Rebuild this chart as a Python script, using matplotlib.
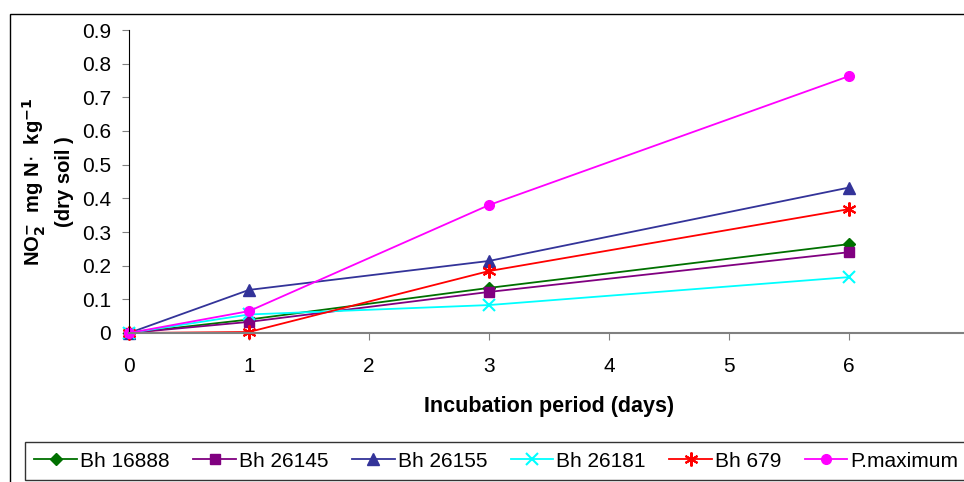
import matplotlib
matplotlib.use("Agg")
import matplotlib.pyplot as plt
from matplotlib.patches import Rectangle

plt.rcParams['font.family'] = ['Liberation Sans', 'DejaVu Sans']

days = [0, 1, 3, 6]
bh16888 = [0.0, 0.040, 0.134, 0.264]
bh26145 = [0.0, 0.033, 0.122, 0.240]
bh26155 = [0.0, 0.128, 0.214, 0.432]
bh26181 = [0.0, 0.055, 0.083, 0.166]
bh679 = [0.0, 0.003, 0.184, 0.368]
pmaximum = [0.0, 0.065, 0.380, 0.763]

labels = ['Bh 16888', 'Bh 26145', 'Bh 26155', 'Bh 26181', 'Bh 679', 'P.maximum']
series = [bh16888, bh26145, bh26155, bh26181, bh679, pmaximum]
colors = ['#007000', '#800080', '#333399', '#00ffff', '#ff0000', '#ff00ff']
markers = ['D', 's', '^', 'x', (6, 2, 0), 'o']
msizes = [6, 7, 8, 8, 10, 7]

fig = plt.figure(figsize=(9.64, 4.82), dpi=100)
ax = fig.add_axes([129 / 964, 1 - 333 / 482, 840 / 964, 303 / 482])

for vals, lab, c, m, ms in zip(series, labels, colors, markers, msizes):
    ax.plot(days, vals, color=c, marker=m, markersize=ms, linewidth=1.3,
            markeredgewidth=1.5 if m == 'x' or isinstance(m, tuple) else 1,
            label=lab, clip_on=False)

ax.set_xlim(0, 7)
ax.set_ylim(0, 0.9)
ax.set_xticks(range(0, 7))
ax.set_yticks([i / 10 for i in range(10)])
ax.set_yticklabels(['0'] + ['0.%d' % i for i in range(1, 10)])
ax.spines['top'].set_visible(False)
ax.spines['right'].set_visible(False)
ax.spines['left'].set_color('black')
ax.spines['bottom'].set_color('#808080')
ax.spines['bottom'].set_linewidth(1.5)
ax.tick_params(axis='both', labelsize=15, direction='out', length=5, color='#808080')
ax.tick_params(axis='y', pad=8)
ax.tick_params(axis='x', pad=12)

ax.set_xlabel('Incubation period (days)', fontsize=15.5, fontweight='bold', labelpad=15)
ax.set_ylabel('NO$_\\mathbf{2}^{\\mathbf{-}}$  mg N$\\cdot$  kg$^{\\mathbf{-1}}$\n(dry soil )',
              fontsize=14.5, fontweight='bold', linespacing=1.45)
ax.yaxis.set_label_coords(-0.066, 0.5)

# outer chart frame
fig.patches.append(Rectangle((10 / 964, -0.01), 1.0, 1 - 14 / 482 + 0.01,
                             transform=fig.transFigure, fill=False,
                             edgecolor='black', linewidth=1))

leg = fig.legend(loc='lower left', bbox_to_anchor=(25 / 964, 2 / 482),
                 ncol=6, fontsize=15, frameon=True, fancybox=False,
                 edgecolor='black', handlelength=2.05, columnspacing=1.12,
                 handletextpad=0.15, borderaxespad=0, borderpad=0.45)
leg.get_frame().set_linewidth(1)

fig.savefig('out.png', dpi=100)
